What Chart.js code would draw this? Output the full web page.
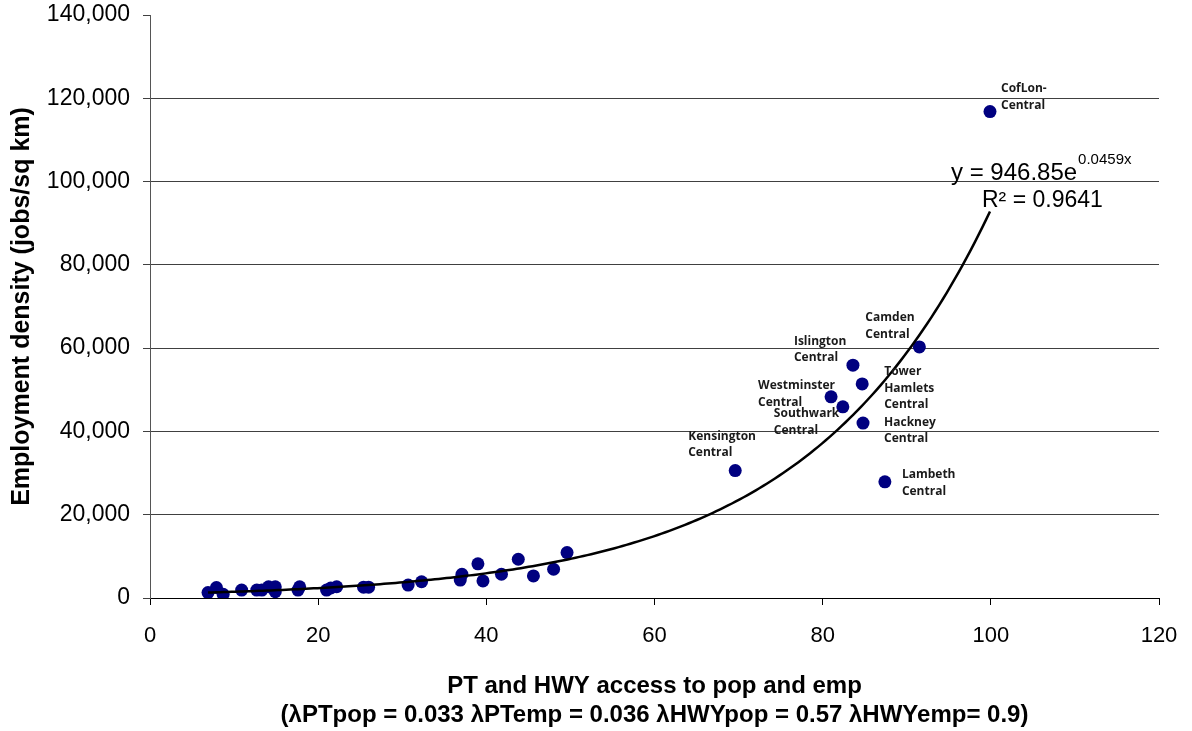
<!DOCTYPE html>
<html>
<head>
<meta charset="utf-8">
<script src="https://cdn.jsdelivr.net/npm/chart.js@4.4.1/dist/chart.umd.min.js"></script>
<style>
  html, body { margin: 0; padding: 0; background: #ffffff; }
  #wrap { width: 1192px; height: 731px; }
</style>
</head>
<body>
<div id="wrap"><canvas id="c" width="1192" height="731"></canvas></div>
<script>
// ---- Data ----
// Unlabelled zones
const zoneX = [6.9, 7.9, 8.7, 10.9, 12.7, 13.3, 14.1, 14.9, 14.9, 17.6, 17.8, 21.0, 21.5, 22.2, 25.4, 26.0, 30.7, 32.3, 37.1, 36.9, 39.0, 39.6, 41.8, 43.8, 45.6, 48.0, 49.6];
const zoneY = [1300, 2500, 900, 1900, 1900, 1900, 2700, 2700, 1500, 1900, 2700, 1900, 2400, 2700, 2600, 2600, 3100, 3900, 5700, 4300, 8200, 4100, 5700, 9300, 5300, 6900, 10900];

// Labelled central zones
const centralNames = [["Kensington", "Central"], ["Westminster", "Central"], ["Southwark", "Central"], ["Islington", "Central"], ["Tower", "Hamlets", "Central"], ["Hackney", "Central"], ["Lambeth", "Central"], ["Camden", "Central"], ["CofLon-", "Central"]];
const centralX = [69.6, 81.0, 82.4, 83.6, 84.7, 84.8, 87.4, 91.5, 99.9];
const centralY = [30600, 48300, 45900, 55900, 51400, 42000, 27900, 60300, 116800];

// Label placement relative to the point (pixels: text left, first line middle)
const labelOffsets = [[-47, -34], [-73, -11], [-69, 7], [-59, -24], [22, -12], [21, -1], [17, -7], [-54, -29], [11, -23]];

// Exponential trendline as printed on the chart
const TREND_A = 946.85;
const TREND_B = 0.0459;
const TREND_R2 = 0.9641;

// Axis ticks
const xTicks = [0, 20, 40, 60, 80, 100, 120];
const yTicks = [0, 20000, 40000, 60000, 80000, 100000, 120000, 140000];

const xTitle = ["PT and HWY access to pop and emp", "(\u03bbPTpop = 0.033 \u03bbPTemp = 0.036 \u03bbHWYpop = 0.57 \u03bbHWYemp= 0.9)"];
const yTitle = "Employment density (jobs/sq km)";

// ---- Build datasets ----
const allX = zoneX.concat(centralX);
const allY = zoneY.concat(centralY);
const scatterData = allX.map((x, i) => ({ x: x, y: allY[i] }));

const tStart = Math.min(...allX), tEnd = Math.max(...allX);
const trendData = [];
const nSteps = 200;
for (let i = 0; i <= nSteps; i++) {
  const x = tStart + (tEnd - tStart) * i / nSteps;
  trendData.push({ x: x, y: TREND_A * Math.exp(TREND_B * x) });
}

const FONT = "'Liberation Sans', Arial, sans-serif";

const labelPlugin = {
  id: 'zoneLabels',
  afterDatasetsDraw(chart) {
    const ctx = chart.ctx;
    const meta = chart.getDatasetMeta(1);
    ctx.save();
    ctx.font = "bold 12px 'Open Sans', sans-serif";
    ctx.fillStyle = '#1a1a1a';
    ctx.textBaseline = 'middle';
    ctx.textAlign = 'left';
    const offset = zoneX.length;
    centralNames.forEach((lines, i) => {
      const el = meta.data[offset + i];
      const [dx, dy] = labelOffsets[i];
      lines.forEach((ln, j) => {
        ctx.fillText(ln, el.x + dx, el.y + dy + j * 16.5);
      });
    });
    // Trendline equation
    ctx.fillStyle = '#000';
    ctx.textBaseline = 'alphabetic';
    ctx.font = "24px " + FONT;
    const main = "y = " + TREND_A.toFixed(2) + "e";
    ctx.fillText(main, 951, 180);
    const w = ctx.measureText(main).width;
    ctx.font = "15px " + FONT;
    ctx.fillText(String(TREND_B) + "x", 951 + w + 1, 164);
    ctx.font = "23px " + FONT;
    ctx.fillText("R\u00b2 = " + TREND_R2, 982, 207);
    ctx.restore();
  }
};

new Chart(document.getElementById('c'), {
  data: {
    datasets: [
      {
        type: 'line',
        label: 'Trend',
        data: trendData,
        borderColor: '#000000',
        borderWidth: 2.5,
        pointRadius: 0,
        fill: false,
        tension: 0,
        order: 0
      },
      {
        type: 'scatter',
        label: 'Zones',
        data: scatterData,
        backgroundColor: '#000080',
        borderWidth: 0,
        pointRadius: 6.5,
        pointHoverRadius: 6.5,
        order: 1
      }
    ]
  },
  options: {
    responsive: false,
    animation: false,
    devicePixelRatio: 1,
    events: [],
    layout: { padding: { top: 15, right: 33, left: 0, bottom: 0 } },
    plugins: { legend: { display: false }, tooltip: { enabled: false } },
    scales: {
      x: {
        type: 'linear',
        position: 'bottom',
        min: 0, max: 120,
        afterBuildTicks: (s) => { s.ticks = xTicks.map(v => ({ value: v })); },
        afterFit: (s) => { s.height = 133; s.paddingLeft = 0; s.paddingRight = 0; },
        ticks: { color: '#000', font: { family: FONT, size: 22 }, padding: 18, maxRotation: 0 },
        grid: { drawOnChartArea: false, drawTicks: true, tickLength: 7, color: '#000' },
        border: { color: '#000', width: 1 },
        title: {
          display: true,
          text: xTitle,
          color: '#000',
          font: { family: FONT, size: 24, weight: 'bold', lineHeight: 1.2 },
          padding: { top: 0, bottom: 1 }
        }
      },
      y: {
        type: 'linear',
        min: 0, max: 140000,
        afterBuildTicks: (s) => { s.ticks = yTicks.map(v => ({ value: v })); },
        afterFit: (s) => { s.width = 150; s.paddingTop = 0; s.paddingBottom = 0; },
        ticks: {
          color: '#000',
          font: { family: FONT, size: 23 },
          padding: 13,
          callback: (v) => Number(v).toLocaleString('en-US')
        },
        grid: {
          drawTicks: true,
          tickLength: 7,
          color: (c) => (c.tick && (c.tick.value === 0 || c.tick.value === 140000)) ? 'rgba(0,0,0,0)' : '#404040',
          tickColor: '#404040',
          lineWidth: 1
        },
        border: { color: '#555', width: 1 },
        title: {
          display: true,
          text: yTitle,
          color: '#000',
          font: { family: FONT, size: 25, weight: 'bold', lineHeight: 1.2 },
          padding: { top: 7, bottom: 0 }
        }
      }
    }
  },
  plugins: [labelPlugin]
});
</script>
</body>
</html>
